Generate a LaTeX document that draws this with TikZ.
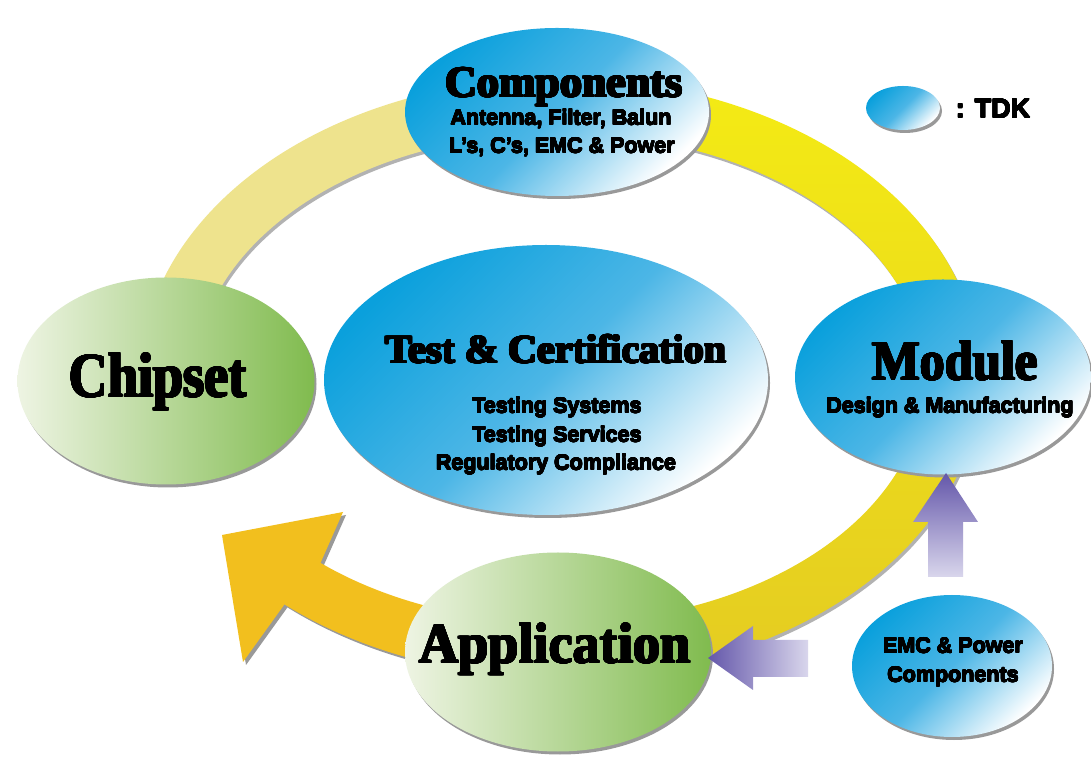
\documentclass[tikz,border=0pt]{standalone}
\usepackage{fontspec}
\usepackage{graphicx}
\usepackage[copies]{contour}
\setmainfont{Liberation Sans}
\newfontfamily\hdfont{Liberation Serif}
\newfontfamily\subfont{Liberation Sans}
\usetikzlibrary{shapes.geometric,shadows}
\definecolor{tblue}{HTML}{0AA0DC}
\definecolor{tmid}{HTML}{4CB6E6}
\definecolor{gpale}{HTML}{EEF4E3}
\definecolor{ggreen}{HTML}{80BB4E}
\definecolor{ringpale}{HTML}{EEE38D}
\definecolor{ringbright}{HTML}{F4EB14}
\definecolor{ringdark}{HTML}{E4CB22}
\definecolor{ringgold}{HTML}{F2BF1E}
\definecolor{pdark}{HTML}{6457AA}
\definecolor{plight}{HTML}{D9D6EC}
\newcommand{\heavy}[1]{\contourlength{0.9pt}\contournumber{24}\contour{black}{#1}}
\newcommand{\semi}[1]{\contourlength{0.35pt}\contournumber{16}\contour{black}{#1}}
\tikzset{
  ballshadow/.style={general shadow={fill=black!40, shadow xshift=2pt, shadow yshift=-3pt}},
  blueball/.style={ellipse, inner sep=0pt, top color=tblue, bottom color=white, middle color=tmid, shading angle=45, ballshadow},
  greenball/.style={ellipse, inner sep=0pt, left color=gpale, right color=ggreen, ballshadow},
  hd/.style={anchor=base, inner sep=0pt, text=black},
  sub/.style={anchor=base, inner sep=0pt, text=black, font=\subfont\bfseries\fontsize{21.5}{24}\selectfont},
}
\begin{document}
\begin{tikzpicture}[x=1pt,y=1pt]
\useasboundingbox (0,0) rectangle (1091,757);
\fill[white] (0,0) rectangle (1091,757);

% arrow head corner points
\coordinate (hb1) at (343,245);
\coordinate (htip) at (222,222);
\coordinate (hb2) at (243,95);

% ring shadow
\begin{scope}[shift={(562,376)}]
  \fill[black!30] (90:420 and 300) arc[start angle=90,end angle=192,x radius=420,y radius=300]
    -- (192:365 and 245) arc[start angle=192,end angle=90,x radius=365,y radius=245] -- cycle;
  \fill[black!30] (-95:420 and 300) arc[start angle=-95,end angle=90,x radius=420,y radius=300]
    -- (90:365 and 245) arc[start angle=90,end angle=-95,x radius=365,y radius=245] -- cycle;
\end{scope}
\begin{scope}[shift={(563,376)}]
  \fill[black!40] (266:365 and 245) arc[start angle=266,end angle=229,x radius=365,y radius=245]
    -- ([shift={(3,-3)}]hb1) -- ([shift={(3,-3)}]htip) -- ([shift={(3,-3)}]hb2)
    -- (229:420 and 300) arc[start angle=229,end angle=266,x radius=420,y radius=300] -- cycle;
\end{scope}

% ring
\begin{scope}[shift={(560,379)}]
  \fill[ringpale] (90:420 and 300) arc[start angle=90,end angle=192,x radius=420,y radius=300]
    -- (192:365 and 245) arc[start angle=192,end angle=90,x radius=365,y radius=245] -- cycle;
  \shade[top color=ringbright, bottom color=ringdark] (-95:420 and 300) arc[start angle=-95,end angle=90,x radius=420,y radius=300]
    -- (90:365 and 245) arc[start angle=90,end angle=-95,x radius=365,y radius=245] -- cycle;
  \fill[ringgold] (266:365 and 245) arc[start angle=266,end angle=229,x radius=365,y radius=245]
    -- (hb1) -- (htip) -- (hb2)
    -- (229:420 and 300) arc[start angle=229,end angle=266,x radius=420,y radius=300] -- cycle;
\end{scope}

% ellipses
\node[blueball, minimum width=304pt, minimum height=168pt] (comp) at (557,645) {};
\node[greenball, minimum width=297pt, minimum height=207pt] (chip) at (166,376) {};
\node[blueball, minimum width=296pt, minimum height=195pt] (mod) at (943,380) {};
\node[greenball, minimum width=306pt, minimum height=199pt] (app) at (558,105) {};
\node[blueball, minimum width=444pt, minimum height=270pt] (test) at (546,377) {};

% purple arrows
\shade[top color=pdark, bottom color=plight] (946,284) -- (978,235) -- (963,235) -- (963,180)
  -- (928,180) -- (928,235) -- (913,235) -- cycle;
\shade[left color=pdark, right color=plight] (708,99) -- (753,131) -- (753,117) -- (808,117)
  -- (808,80) -- (753,80) -- (753,67) -- cycle;

\node[blueball, minimum width=200pt, minimum height=142pt] (emc) at (952,91) {};
\node[blueball, minimum width=74pt, minimum height=44pt] (tdk) at (903,649) {};

% texts
\node[hd, font=\hdfont\bfseries\fontsize{44}{48}\selectfont] (tcomp) at (564,660) {\heavy{Components}};
\node[sub] (tcomp1) at (561,632) {\semi{Antenna, Filter, Balun}};
\node[sub] (tcomp2) at (562,604) {\semi{L’s, C’s, EMC \& Power}};

\node[hd, font=\hdfont\bfseries\fontsize{63}{68}\selectfont] (tchip) at (158,360) {\scalebox{0.86}[1]{\heavy{Chipset}}};

\node[hd, font=\hdfont\bfseries\fontsize{40}{44}\selectfont] (ttest) at (556,394) {\heavy{Test \& Certification}};
\node[sub] (ttest1) at (557,344) {\semi{Testing Systems}};
\node[sub] (ttest2) at (557,315) {\semi{Testing Services}};
\node[sub] (ttest3) at (556,287) {\semi{Regulatory Compliance}};

\node[hd, font=\hdfont\bfseries\fontsize{56}{60}\selectfont] (tmod) at (955,377) {\scalebox{0.9}[1]{\heavy{Module}}};
\node[sub] (tmod1) at (950,344) {\semi{Design \& Manufacturing}};

\node[hd, font=\hdfont\bfseries\fontsize{57}{62}\selectfont] (tapp) at (555,94) {\scalebox{0.95}[1]{\heavy{Application}}};

\node[sub] (temc1) at (953,104) {\semi{EMC \& Power}};
\node[sub] (temc2) at (953,75) {\semi{Components}};

\node[anchor=base, inner sep=0pt, font=\subfont\bfseries\fontsize{27}{30}\selectfont] (ttdk) at (993,639) {\semi{: TDK}};
\end{tikzpicture}
\end{document}
